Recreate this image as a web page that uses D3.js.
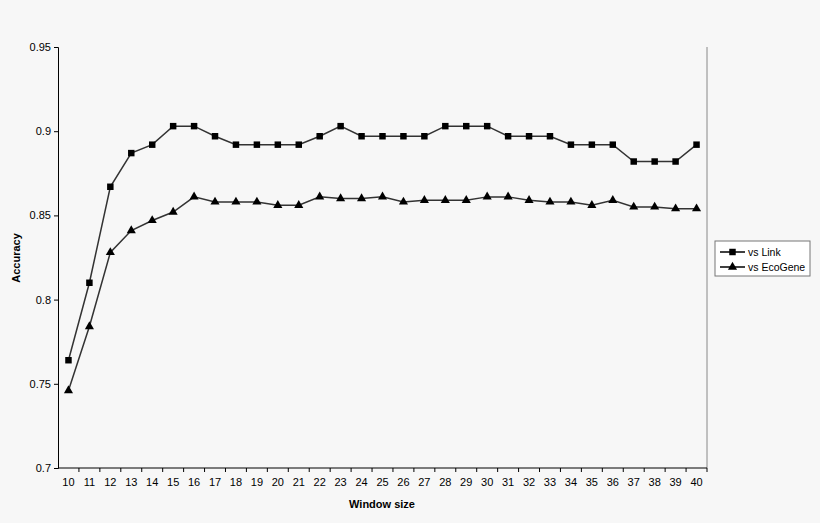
<!DOCTYPE html>
<html><head><meta charset="utf-8">
<script src="https://cdn.jsdelivr.net/npm/d3@7"></script>
<style>body{margin:0;background:#f7f7f7;font-family:"Liberation Sans",Arial,sans-serif;}</style>
</head><body><svg width="820" height="523"></svg>
<script>
const windowSizes = d3.range(10, 41);
const vsLink = [0.764,0.810,0.867,0.887,0.892,0.903,0.903,0.897,0.892,0.892,0.892,0.892,0.897,0.903,0.897,0.897,0.897,0.897,0.903,0.903,0.903,0.897,0.897,0.897,0.892,0.892,0.892,0.882,0.882,0.882,0.892];
const vsEcoGene = [0.746,0.784,0.828,0.841,0.847,0.852,0.861,0.858,0.858,0.858,0.856,0.856,0.861,0.860,0.860,0.861,0.858,0.859,0.859,0.859,0.861,0.861,0.859,0.858,0.858,0.856,0.859,0.855,0.855,0.854,0.854];
const yTicks = [0.7,0.75,0.8,0.85,0.9,0.95];

const svg = d3.select("svg");
const L = 58, R = 707, T = 47, B = 468;
const x = d3.scaleBand().domain(windowSizes).range([L, R]);
const y = d3.scaleLinear().domain([0.7, 0.95]).range([B, T]);

// right border
svg.append("line").attr("x1", R).attr("x2", R).attr("y1", T).attr("y2", B).attr("stroke", "#888");

const ya = svg.append("g").attr("transform", `translate(${L},0)`)
  .call(d3.axisLeft(y).tickValues(yTicks).tickSize(4).tickFormat(d => d == 0.7 ? "0.7" : d == 0.8 ? "0.8" : d == 0.9 ? "0.9" : d));
const xa = svg.append("g").attr("transform", `translate(0,${B})`)
  .call(d3.axisBottom(x).tickSize(0).tickPadding(10));
xa.selectAll(".tick").append("line").attr("x1", x.bandwidth()/2).attr("x2", x.bandwidth()/2).attr("y2", 4).attr("stroke", "#000");
[ya, xa].forEach(a => { a.selectAll("text").attr("font-size", 11).attr("font-family", "Liberation Sans, Arial").attr("fill", "#000"); a.select(".domain").attr("stroke", "#000"); });
xa.select(".domain").attr("d", `M${L},0H${R}`);

const cx = d => x(d) + x.bandwidth()/2;
const line = d3.line().x((d, i) => cx(windowSizes[i])).y(d => y(d));
const sq = d3.symbol().type(d3.symbolSquare).size(42);
const tri = d3.symbol().type(d3.symbolTriangle).size(36);

[[vsLink, sq], [vsEcoGene, tri]].forEach(([data, sym]) => {
  svg.append("path").datum(data).attr("d", line).attr("fill", "none").attr("stroke", "#333").attr("stroke-width", 1.5);
  svg.selectAll(null).data(data).enter().append("path")
    .attr("d", sym).attr("transform", (d, i) => `translate(${cx(windowSizes[i])},${y(d)})`).attr("fill", "#000");
});

svg.append("text").attr("x", 382).attr("y", 508).attr("text-anchor", "middle")
  .attr("font-size", 11).attr("font-weight", "bold").text("Window size");
svg.append("text").attr("transform", "translate(20,258) rotate(-90)").attr("text-anchor", "middle")
  .attr("font-size", 11).attr("font-weight", "bold").text("Accuracy");

const lg = svg.append("g").attr("transform", "translate(715,241)");
lg.append("rect").attr("width", 95).attr("height", 35).attr("fill", "#fff").attr("stroke", "#777");
[["vs Link", sq], ["vs EcoGene", tri]].forEach(([t, sym], i) => {
  const yy = 11 + i * 15;
  lg.append("line").attr("x1", 5).attr("x2", 30).attr("y1", yy).attr("y2", yy).attr("stroke", "#000").attr("stroke-width", 1.5);
  lg.append("path").attr("d", sym).attr("transform", `translate(17.5,${yy})`);
  lg.append("text").attr("x", 33).attr("y", yy + 4).attr("font-size", 10.5).text(t);
});
</script></body></html>
